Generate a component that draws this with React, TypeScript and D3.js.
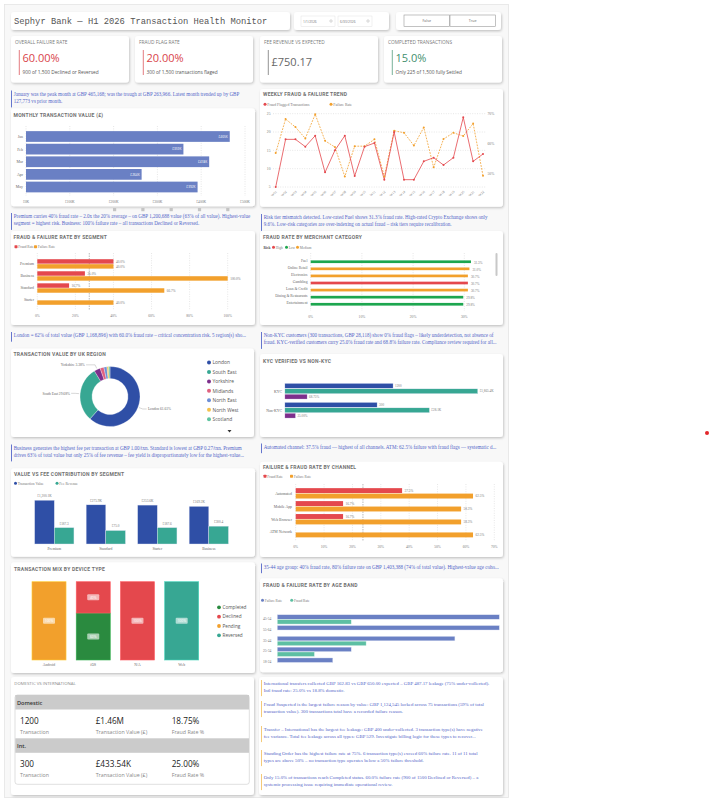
import React from 'react'
import * as d3 from 'd3'

// ---------- data ----------
const months = ['Jan', 'Feb', 'Mar', 'Apr', 'May']
const monthValue = [465168, 359400, 418200, 263966, 391739]

const weeks = ['W01', 'W02', 'W03', 'W04', 'W05', 'W06', 'W07', 'W08', 'W09', 'W10', 'W11',
  'W12', 'W13', 'W14', 'W15', 'W16', 'W17', 'W18', 'W19', 'W20', 'W21', 'W22']
const weeklyFraud = [5, 18, 18, 16, 19, 9, 15, 19, 8, 16, 17, 7, 20, 7, 7, 12, 13, 11, 13, 24, 12, 14]
const weeklyFailure = [56.8, 68.2, 65.5, 61.7, 69.8, 60.9, 58.8, 48.9, 59.1, 59.1, 61.4, 48.9,
  64.3, 63.6, 59.3, 65.4, 52.0, 61.5, 63.6, 62.5, 66.7, 49.2]

const segments = ['Premium', 'Business', 'Standard', 'Starter']
const segFraud = [40, 25, 16.7, 0]
const segFailure = [40, 100, 66.7, 40]

const merchants = ['Fuel', 'Online Retail', 'Electronics', 'Gambling', 'Loan & Credit', 'Dining & Restaurants', 'Entertainment']
const merchantRate = [31.3, 31.0, 30.7, 30.7, 30.7, 29.8, 29.8]
const merchantRisk = ['Low', 'Medium', 'Medium', 'High', 'Medium', 'Low', 'Low']
const riskLevels = ['High', 'Low', 'Medium']

const regions = ['London', 'South East', 'Yorkshire', 'Midlands', 'North East', 'North West', 'Scotland']
const regionShare = [61.61, 29.68, 3.38, 2.05, 1.62, 0.93, 0.73]

const kycGroups = ['KYC', 'Non-KYC']
const kycCount = [1200, 300]
const kycValue = [1865400, 28118]
const kycFailure = [68.75, 25.0]

const feeSegments = ['Premium', 'Standard', 'Starter', 'Business']
const feeSegValue = [1200100, 275900, 253600, 169200]
const feeSegFee = [187.3, 75.0, 187.6, 300.4]

const channels = ['Automated', 'Mobile App', 'Web Browser', 'ATM Network']
const chFraud = [37.5, 16.7, 16.7, 0]
const chFailure = [62.5, 58.3, 58.3, 62.5]

const devices = ['Android', 'iOS', 'N/A', 'Web']
const statuses = ['Completed', 'Declined', 'Pending', 'Reversed']
const devCompleted = [0, 60, 0, 0]
const devDeclined = [0, 40, 100, 0]
const devPending = [100, 0, 0, 0]
const devReversed = [0, 0, 0, 100]

const ageBands = ['45-54', '55-64', '35-44', '25-34', '18-24']
const ageFailure = [100, 100, 80, 33.3, 25]
const ageFraud = [33.3, 0, 40, 16.7, 0]

// ---------- styling ----------
const SANS = "'Segoe UI', 'Open Sans', 'Noto Sans', sans-serif"
const SERIF = "'Liberation Serif', 'DejaVu Serif', serif"
const HEAD = "Roboto, 'DejaVu Sans', sans-serif"
const MONO = "'Liberation Mono', 'DejaVu Sans Mono', monospace"
const RED = '#e4484d'
const ORANGE = '#f2a02c'
const BLUE = '#2f4fa6'
const TEAL = '#37a793'
const PURPLE = '#7d2f8c'
const GREEN_LOW = '#1da64f'
const NOTE = '#5366c8'

const Card = ({ x, y, w, h }: any) => (
  <rect x={x} y={y} width={w} height={h} rx={3} fill="#fff" filter="url(#sh)" />
)

const Title = ({ x, y, text }: any) => (
  <text x={x} y={y} fontSize={5} fontWeight={700} fill="#717171" letterSpacing={0.25} fontFamily={HEAD}>{text}</text>
)

const Note = ({ x, y, lines, border, size = 5.05, lh = 7.2 }: any) => (
  <g>
    <line x1={x} x2={x} y1={y} y2={y + lines.length * lh + 2.5} stroke={border} strokeWidth={0.9} />
    {lines.map((l: string, i: number) => (
      <text key={i} x={x + 2.2} y={y + 5 + i * lh} fontSize={size} fill={NOTE} fontFamily={SERIF}>{l}</text>
    ))}
  </g>
)

const Legend = ({ items, y, shape = 'circle', size = 3.8 }: any) => (
  <g fontFamily={SERIF} fontSize={size} fill="#777">
    {items.map((it: any, i: number) => (
      <g key={i}>
        {shape === 'circle'
          ? <circle cx={it.x} cy={y - 1.3} r={1.5} fill={it.c} />
          : <rect x={it.x - 1.5} y={y - 2.8} width={3} height={3} rx={0.6} fill={it.c} />}
        <text x={it.x + 2.3} y={y}>{it.t}</text>
      </g>
    ))}
  </g>
)

const pct1 = (v: number) => v.toFixed(1) + '%'

// ---------- panels ----------
function Header() {
  const kpis = [
    { x: 11, t: 'OVERALL FAILURE RATE', v: '60.00%', s: '900 of 1,500 Declined or Reversed', c: '#d9434a' },
    { x: 135, t: 'FRAUD FLAG RATE', v: '20.00%', s: '300 of 1,500 transactions flaged', c: '#d9434a' },
    { x: 260, t: 'FEE REVENUE VS EXPECTED', v: '£750.17', s: '', c: '#666' },
    { x: 384, t: 'COMPLETED TRANSACTIONS', v: '15.0%', s: 'Only 225 of 1,500 fully Settled', c: '#3f8f6e' },
  ]
  return (
    <g>
      <Card x={11} y={12} w={279} h={18} />
      <text x={14} y={23.5} fontSize={8.8} fill="#555" fontFamily={MONO}>Sephyr Bank — H1 2026 Transaction Health Monitor</text>
      <Card x={294} y={12} w={95} h={18} />
      {[{ x: 301, t: '1/1/2026' }, { x: 338, t: '6/30/2026' }].map((d) => (
        <g key={d.t}>
          <rect x={d.x} y={16} width={34} height={10.5} fill="#fff" stroke="#e2e2e2" strokeWidth={0.5} />
          <text x={d.x + 2} y={22.6} fontSize={3.3} fill="#777" fontFamily={SANS}>{d.t}</text>
          <circle cx={d.x + 30} cy={21} r={1.2} fill="none" stroke="#999" strokeWidth={0.4} />
        </g>
      ))}
      <Card x={396} y={12} w={105} h={18} />
      {[{ x: 404, t: 'False' }, { x: 450, t: 'True' }].map((b) => (
        <g key={b.t}>
          <rect x={b.x} y={15} width={45.5} height={11.5} fill="#fff" stroke="#9a9a9a" strokeWidth={0.6} />
          <text x={b.x + 22.7} y={22.2} fontSize={3.6} fill="#666" textAnchor="middle" fontFamily={SANS}>{b.t}</text>
        </g>
      ))}
      {kpis.map((k) => (
        <g key={k.t}>
          <Card x={k.x} y={36} w={118} h={46.5} />
          <text x={k.x + 4} y={44} fontSize={4.8} fill="#7a7a7a" fontFamily={SANS}>{k.t}</text>
          <line x1={k.x + 8.3} x2={k.x + 8.3} y1={50} y2={75} stroke={k.c} strokeWidth={0.7} />
          <text x={k.x + 11.5} y={k.s ? 62 : 66} fontSize={11} fill={k.c} fontFamily={SANS}>{k.v}</text>
          {k.s && <text x={k.x + 11.5} y={73.5} fontSize={4.8} fill="#555" fontFamily={SANS}>{k.s}</text>}
        </g>
      ))}
    </g>
  )
}

function MonthlyChart() {
  const x = d3.scaleLinear().domain([0, 500000]).range([26, 245])
  const y = d3.scaleBand().domain(months).range([130.5, 193]).paddingInner(0.15).paddingOuter(0.05)
  const bw = y.bandwidth()
  return (
    <g>
      <Card x={11} y={108.3} w={244} h={98} />
      <Title x={13.5} y={116.5} text="MONTHLY TRANSACTION VALUE (£)" />
      {x.ticks(5).map((t) => (
        <g key={t}>
          <line x1={x(t)} x2={x(t)} y1={126} y2={196} stroke="#cdcdcd" strokeWidth={0.5} strokeDasharray="1,1.4" />
          <text x={x(t)} y={202.5} fontSize={3.6} fill="#777" textAnchor="middle" fontFamily={SERIF}>{'£' + t / 1000 + 'K'}</text>
        </g>
      ))}
      {months.map((m, i) => (
        <g key={m}>
          <rect x={x(0)} y={y(m)} width={x(monthValue[i]) - x(0)} height={bw} fill="#6a80c4" />
          <text x={x(0) - 3} y={y(m)! + bw / 2 + 1.4} fontSize={3.9} fill="#666" textAnchor="end" fontFamily={SERIF}>{m}</text>
          <text x={x(monthValue[i]) - 2} y={y(m)! + bw / 2 + 1.2} fontSize={3.2} fill="#fff" textAnchor="end" fontFamily={SANS}>
            {'£' + Math.round(monthValue[i] / 1000) + 'K'}
          </text>
        </g>
      ))}
      {months.map((m, i) => (
        <rect key={'pg' + m} x={113 + i * 28.3} y={208} width={3.2} height={3.2} fill="#c4c4c4" />
      ))}
    </g>
  )
}

function WeeklyTrend() {
  const x = d3.scalePoint().domain(weeks).range([275.7, 483])
  const yL = d3.scaleLinear().domain([5, 25]).range([187, 113.7])
  const yR = d3.scaleLinear().domain([50, 70]).range([173.3, 113.7])
  const fraudLine = d3.line<number>().x((_, i) => x(weeks[i])!).y((d) => yL(d))
  const failLine = d3.line<number>().x((_, i) => x(weeks[i])!).y((d) => yR(d))
  return (
    <g>
      <Card x={260} y={89} w={243} h={117.7} />
      <Title x={263} y={96} text="WEEKLY FRAUD & FAILURE TREND" />
      <Legend y={105.5} items={[{ x: 265, c: RED, t: 'Fraud Flagged Transactions' }, { x: 331, c: ORANGE, t: 'Failure Rate' }]} />
      {yL.ticks(4).map((t) => (
        <g key={t}>
          <line x1={273} x2={486} y1={yL(t)} y2={yL(t)} stroke="#cfcfcf" strokeWidth={0.5} strokeDasharray="1,1.4" />
          <text x={270.5} y={yL(t) + 1.3} fontSize={3.7} fill="#777" textAnchor="end" fontFamily={SERIF}>{t}</text>
        </g>
      ))}
      {yR.ticks(2).map((t) => (
        <text key={t} x={487.5} y={yR(t) + 1.3} fontSize={3.7} fill="#777" fontFamily={SERIF}>{t + '%'}</text>
      ))}
      {weeks.map((w) => (
        <text key={w} transform={`translate(${x(w)! + 1.5},${192}) rotate(-45)`} fontSize={3.4} fill="#777" textAnchor="end" fontFamily={SERIF}>{w}</text>
      ))}
      <path d={failLine(weeklyFailure)!} fill="none" stroke={ORANGE} strokeWidth={0.8} strokeDasharray="1.8,1.2" />
      <path d={fraudLine(weeklyFraud)!} fill="none" stroke={RED} strokeWidth={0.8} />
      {weeklyFailure.map((v, i) => <circle key={'o' + i} cx={x(weeks[i])} cy={yR(v)} r={1} fill={ORANGE} />)}
      {weeklyFraud.map((v, i) => <circle key={'r' + i} cx={x(weeks[i])} cy={yL(v)} r={1} fill={RED} />)}
    </g>
  )
}

// horizontal grouped bars (fraud / failure) with linear % axis
function PairBars({ cats, a, b, colA, colB, x, y, labelX, axisY, gridTop, gridBottom, refLine, tickCount }: any) {
  const inner = d3.scaleBand().domain(['a', 'b']).range([0, y.bandwidth()]).paddingInner(0.1)
  const h = inner.bandwidth()
  return (
    <g>
      {x.ticks(tickCount).map((t: number) => (
        <g key={t}>
          <line x1={x(t)} x2={x(t)} y1={gridTop} y2={gridBottom} stroke="#cfcfcf" strokeWidth={0.5} strokeDasharray="1,1.4" />
          <text x={x(t)} y={axisY} fontSize={3.6} fill="#777" textAnchor="middle" fontFamily={SERIF}>{t + '%'}</text>
        </g>
      ))}
      <line x1={x(refLine)} x2={x(refLine)} y1={gridTop} y2={gridBottom} stroke="#777" strokeWidth={0.5} strokeDasharray="1.5,1" />
      {cats.map((c: string, i: number) => (
        <g key={c}>
          <text x={labelX} y={y(c) + y.bandwidth() / 2 + 1.3} fontSize={3.8} fill="#666" textAnchor="end" fontFamily={SERIF}>{c}</text>
          {a[i] > 0 && (
            <g>
              <rect x={x(0)} y={y(c) + inner('a')} width={x(a[i]) - x(0)} height={h} fill={colA} />
              <text x={x(a[i]) + 2.5} y={y(c) + inner('a') + h / 2 + 1.2} fontSize={3.4} fill="#777" fontFamily={SERIF}>{pct1(a[i])}</text>
            </g>
          )}
          <rect x={x(0)} y={y(c) + inner('b')} width={x(b[i]) - x(0)} height={h} fill={colB} />
          <text x={x(b[i]) + 2.5} y={y(c) + inner('b') + h / 2 + 1.2} fontSize={3.4} fill="#777" fontFamily={SERIF}>{pct1(b[i])}</text>
        </g>
      ))}
    </g>
  )
}

function SegmentChart() {
  const x = d3.scaleLinear().domain([0, 100]).range([37.3, 227.7])
  const y = d3.scaleBand().domain(segments).range([258, 306]).paddingInner(0.22).paddingOuter(0.1)
  return (
    <g>
      <Card x={11} y={231} w={244} h={94} />
      <Title x={13.5} y={239} text="FRAUD & FAILURE RATE BY SEGMENT" />
      <Legend shape="rect" size={3.5} y={248} items={[{ x: 16, c: RED, t: 'Fraud Rate' }, { x: 35.5, c: ORANGE, t: 'Failure Rate' }]} />
      <PairBars cats={segments} a={segFraud} b={segFailure} colA={RED} colB={ORANGE} x={x} y={y}
        labelX={34} axisY={316.5} gridTop={253} gridBottom={310} refLine={27.3} tickCount={5} />
    </g>
  )
}

function MerchantChart() {
  const x = d3.scaleLinear().domain([0, 30]).range([310.7, 464.3])
  const y = d3.scaleBand().domain(merchants).range([256, 310]).padding(0.62)
  const color = d3.scaleOrdinal<string>().domain(riskLevels).range([RED, GREEN_LOW, ORANGE])
  return (
    <g>
      <Card x={260} y={231} w={243} h={94} />
      <Title x={263} y={239} text="FRAUD RATE BY MERCHANT CATEGORY" />
      <text x={263.5} y={248.5} fontSize={3.6} fontWeight={700} fill="#555" fontFamily={SERIF}>Risk</text>
      <Legend size={3.4} y={248.5} items={riskLevels.map((r, i) => ({ x: [273.5, 286.5, 297.5][i], c: color(r), t: r }))} />
      {x.ticks(3).map((t) => (
        <g key={t}>
          <line x1={x(t)} x2={x(t)} y1={253} y2={311} stroke="#cfcfcf" strokeWidth={0.5} strokeDasharray="1,1.4" />
          <text x={x(t)} y={317.5} fontSize={3.6} fill="#777" textAnchor="middle" fontFamily={SERIF}>{t + '%'}</text>
        </g>
      ))}
      {merchants.map((m, i) => (
        <g key={m}>
          <text x={307.5} y={y(m)! + y.bandwidth() / 2 + 0.2} fontSize={3.7} fill="#666" textAnchor="end" fontFamily={SERIF}>{m}</text>
          <rect x={x(0)} y={y(m)} width={x(merchantRate[i]) - x(0)} height={y.bandwidth()} fill={color(merchantRisk[i])} />
          <text x={x(merchantRate[i]) + 3} y={y(m)! + y.bandwidth() / 2 + 1.8} fontSize={3.3} fill="#777" fontFamily={SERIF}>{pct1(merchantRate[i])}</text>
        </g>
      ))}
      <rect x={495.5} y={253} width={2} height={23} rx={1} fill="#c8c8c8" />
    </g>
  )
}

function RegionDonut() {
  const cx = 110
  const cy = 396.5
  const color = d3.scaleOrdinal<string>().domain(regions)
    .range([BLUE, TEAL, PURPLE, '#e0617f', '#6d8fd6', '#f4c24c', '#5fc4a1'])
  const pie = d3.pie<number>().sort(null).value((d) => d)
  const arcs = pie(regionShare)
  const arc = d3.arc<d3.PieArcDatum<number>>().innerRadius(18).outerRadius(30)
  return (
    <g>
      <Card x={11} y={348.5} w={243} h={88.5} />
      <Title x={13.5} y={355.5} text="TRANSACTION VALUE BY UK REGION" />
      <g transform={`translate(${cx},${cy})`}>
        {arcs.map((a, i) => <path key={regions[i]} d={arc(a)!} fill={color(regions[i])} stroke="#fff" strokeWidth={0.3} />)}
      </g>
      {arcs.slice(0, 3).map((a, i) => {
        const mid = (a.startAngle + a.endAngle) / 2
        const s = Math.sin(mid)
        const c = -Math.cos(mid)
        const p1 = [cx + s * 31, cy + c * 31]
        const p2 = [cx + s * 35, cy + c * 35]
        const dir = s >= 0 ? 1 : -1
        const p3 = [p2[0] + dir * (i === 2 ? 9 : 4), p2[1]]
        return (
          <g key={'lbl' + i}>
            <polyline points={[p1, p2, p3].map((p) => p.join(',')).join(' ')} fill="none" stroke="#999" strokeWidth={0.4} />
            <text x={p3[0] + dir * 1.2} y={p3[1] + 1.2} fontSize={3.6} fill="#666" textAnchor={dir > 0 ? 'start' : 'end'} fontFamily={SERIF}>
              {regions[i] + ' ' + regionShare[i].toFixed(2) + '%'}
            </text>
          </g>
        )
      })}
      {regions.map((r, i) => (
        <g key={'lg' + r}>
          <circle cx={209} cy={362.5 + i * 9.45} r={2} fill={color(r)} />
          <text x={212.5} y={364.3 + i * 9.45} fontSize={4.9} fill="#555" fontFamily={SANS}>{r}</text>
        </g>
      ))}
      <path d="M227.5,430 L231.5,430 L229.5,432.5 Z" fill="#333" />
    </g>
  )
}

function KycChart() {
  const x = d3.scaleLog().domain([0.1, 1e7]).range([284.9, 497])
  const y = d3.scaleBand().domain(kycGroups).range([382.5, 419]).paddingInner(0.18).paddingOuter(0.05)
  const inner = d3.scaleBand().domain(['count', 'value', 'fail']).range([0, y.bandwidth()]).paddingInner(0.12)
  const h = inner.bandwidth()
  const series = [
    { k: 'count', vals: kycCount, col: BLUE, fmt: (v: number) => String(v) },
    { k: 'value', vals: kycValue, col: TEAL, fmt: (v: number) => '£' + d3.format(',.1f')(v / 1000) + 'K' },
    { k: 'fail', vals: kycFailure.map((v) => v / 100), col: PURPLE, fmt: (v: number) => (v * 100).toFixed(2) + '%' },
  ]
  return (
    <g>
      <Card x={260} y={354} w={243} h={83} />
      <Title x={263} y={362.5} text="KYC VERIFIED VS NON-KYC" />
      {kycGroups.map((g) => (
        <g key={g}>
          <text x={282} y={y(g)! + y.bandwidth() / 2 + 1.3} fontSize={3.8} fill="#666" textAnchor="end" fontFamily={SERIF}>{g}</text>
          {series.map((s) => {
            const v = s.vals[kycGroups.indexOf(g)]
            const yy = y(g)! + inner(s.k)!
            return (
              <g key={s.k}>
                <rect x={x(0.1)} y={yy} width={x(v) - x(0.1)} height={h} fill={s.col} stroke="#dfe3f3" strokeWidth={0.3} />
                <text x={x(v) + 2} y={yy + h / 2 + 1.2} fontSize={3.3} fill="#777" fontFamily={SERIF}>{s.fmt(v)}</text>
              </g>
            )
          })}
        </g>
      ))}
    </g>
  )
}

function ValueFeeChart() {
  const x = d3.scaleBand().domain(feeSegments).range([28.55, 234.55]).paddingInner(0.237).paddingOuter(0.1185)
  const inner = d3.scaleBand().domain(['value', 'fee']).range([0, x.bandwidth()])
  const y = d3.scaleLog().domain([1, 1e7]).range([544, 493.6])
  const series = [
    { k: 'value', vals: feeSegValue, col: BLUE, fmt: (v: number) => '£' + d3.format(',.1f')(v / 1000) + 'K' },
    { k: 'fee', vals: feeSegFee, col: TEAL, fmt: (v: number) => '£' + v.toFixed(1) },
  ]
  return (
    <g>
      <Card x={11} y={468.3} w={244} h={88.4} />
      <Title x={14} y={475.5} text="VALUE VS FEE CONTRIBUTION BY SEGMENT" />
      <Legend y={484.5} size={3.6} items={[{ x: 15.5, c: BLUE, t: 'Transaction Value' }, { x: 57, c: TEAL, t: 'Fee Revenue' }]} />
      {feeSegments.map((s, i) => (
        <g key={s}>
          {series.map((se) => {
            const v = se.vals[i]
            const bx = x(s)! + inner(se.k)!
            return (
              <g key={se.k}>
                <rect x={bx} y={y(v)} width={inner.bandwidth()} height={y(1) - y(v)} fill={se.col} stroke="#dfe3f3" strokeWidth={0.4} />
                <text x={bx + inner.bandwidth() / 2} y={y(v) - 3} fontSize={3.4} fill="#777" textAnchor="middle" fontFamily={SERIF}>{se.fmt(v)}</text>
              </g>
            )
          })}
          <text x={x(s)! + x.bandwidth() / 2} y={550} fontSize={3.7} fill="#666" textAnchor="middle" fontFamily={SERIF}>{s}</text>
        </g>
      ))}
    </g>
  )
}

function ChannelChart() {
  const x = d3.scaleLinear().domain([0, 70]).range([295.7, 494.3])
  const y = d3.scaleBand().domain(channels).range([487.5, 538]).paddingInner(0.2).paddingOuter(0.05)
  return (
    <g>
      <Card x={260} y={461.7} w={243} h={95.3} />
      <Title x={263} y={469} text="FAILURE & FRAUD RATE BY CHANNEL" />
      <Legend shape="rect" size={3.5} y={477.5} items={[{ x: 265, c: RED, t: 'Fraud Rate' }, { x: 291.5, c: ORANGE, t: 'Failure Rate' }]} />
      <PairBars cats={channels} a={chFraud} b={chFailure} colA={RED} colB={ORANGE} x={x} y={y}
        labelX={292} axisY={547.5} gridTop={484} gridBottom={541} refLine={23.7} tickCount={7} />
    </g>
  )
}

function DeviceChart() {
  const x = d3.scaleBand().domain(devices).range([26.9, 203.8]).paddingInner(0.23).paddingOuter(0.115)
  const y = d3.scaleLinear().domain([0, 100]).range([660, 581.7])
  const color = d3.scaleOrdinal<string>().domain(statuses).range(['#2a8a3f', RED, ORANGE, TEAL])
  const rows = devices.map((d, i) => ({
    device: d, Completed: devCompleted[i], Declined: devDeclined[i], Pending: devPending[i], Reversed: devReversed[i],
  }))
  const stacked = d3.stack<any>().keys(statuses)(rows)
  return (
    <g>
      <Card x={11} y={562.3} w={244} h={110.7} />
      <Title x={14} y={570.5} text="TRANSACTION MIX BY DEVICE TYPE" />
      {stacked.map((s) => s.map((d, i) => {
        if (d[1] - d[0] <= 0) return null
        const bx = x(devices[i])!
        const mid = (y(d[0]) + y(d[1])) / 2
        const lbl = Math.round(d[1] - d[0]) + '%'
        return (
          <g key={s.key + i}>
            <rect x={bx} y={y(d[1])} width={x.bandwidth()} height={y(d[0]) - y(d[1])} fill={color(s.key)}
              stroke={d3.color(color(s.key))!.brighter(0.7).toString()} strokeWidth={0.6} />
            <rect x={bx + x.bandwidth() / 2 - 6} y={mid - 3} width={12} height={6} rx={1} fill="#fff" opacity={0.6} />
            <text x={bx + x.bandwidth() / 2} y={mid + 1.2} fontSize={3.4} fill="#fff" textAnchor="middle" fontFamily={SANS}>{lbl}</text>
          </g>
        )
      }))}
      {devices.map((d) => (
        <text key={d} x={x(d)! + x.bandwidth() / 2} y={665.5} fontSize={3.7} fill="#666" textAnchor="middle" fontFamily={SERIF}>{d}</text>
      ))}
      {statuses.map((s, i) => (
        <g key={'lg' + s}>
          <circle cx={219} cy={607.3 + i * 9.35} r={1.9} fill={color(s)} />
          <text x={222.5} y={609 + i * 9.35} fontSize={4.7} fill="#555" fontFamily={SANS}>{s}</text>
        </g>
      ))}
    </g>
  )
}

function AgeChart() {
  const x = d3.scaleLinear().domain([0, 100]).range([277.3, 499.3])
  const y = d3.scaleBand().domain(ageBands).range([614, 668]).paddingInner(0.14).paddingOuter(0.07)
  const inner = d3.scaleBand().domain(['fail', 'fraud']).range([0, y.bandwidth()]).paddingInner(0.08)
  const h = inner.bandwidth()
  return (
    <g>
      <Card x={260} y={578.3} w={243} h={94} />
      <Title x={263} y={587} text="FRAUD & FAILURE RATE BY AGE BAND" />
      <Legend y={601.5} size={3.5} items={[{ x: 262.5, c: '#6a80c4', t: 'Failure Rate' }, { x: 291.7, c: '#5dbfa3', t: 'Fraud Rate' }]} />
      {ageBands.map((a, i) => (
        <g key={a}>
          <text x={263} y={y(a)! + y.bandwidth() / 2 + 0.5} fontSize={3.6} fill="#777" fontFamily={SERIF}>{a}</text>
          <rect x={x(0)} y={y(a)! + inner('fail')!} width={x(ageFailure[i]) - x(0)} height={h} fill="#6a80c4" stroke="#dfe3f3" strokeWidth={0.4} />
          {ageFraud[i] > 0 && (
            <rect x={x(0)} y={y(a)! + inner('fraud')!} width={x(ageFraud[i]) - x(0)} height={h} fill="#5dbfa3" stroke="#dff3ee" strokeWidth={0.4} />
          )}
        </g>
      ))}
    </g>
  )
}

function DomesticCard() {
  const rows = [
    { name: 'Domestic', top: 695, vals: ['1200', '£1.46M', '18.75%'] },
    { name: 'Int.', top: 738.3, vals: ['300', '£433.54K', '25.00%'] },
  ]
  const labels = ['Transaction', 'Transaction Value (£)', 'Fraud Rate %']
  const cols = [20, 95.7, 171.7]
  return (
    <g>
      <Card x={11} y={677} w={243} h={118} />
      <text x={14.3} y={685} fontSize={4.3} fill="#8a8a8a" fontFamily={SANS}>DOMESTIC VS INTERNATIONAL</text>
      <rect x={15} y={695} width={234.3} height={89.3} rx={2.5} fill="#fff" stroke="#c9c9c9" strokeWidth={0.6} />
      {rows.map((r) => (
        <g key={r.name}>
          <rect x={15.3} y={r.top} width={233.7} height={14.5} fill="#cbcbcb" />
          <text x={17} y={r.top + 9.5} fontSize={5.6} fontWeight={600} fill="#333" fontFamily={SANS}>{r.name}</text>
          {r.vals.map((v, j) => (
            <g key={j}>
              <text x={cols[j]} y={r.top + 29} fontSize={8.2} fill="#222" fontFamily={SANS}>{v}</text>
              <text x={cols[j]} y={r.top + 38.5} fontSize={5.3} fill="#888" fontFamily={SANS}>{labels[j]}</text>
            </g>
          ))}
        </g>
      ))}
    </g>
  )
}

function InsightCard() {
  const notes = [
    ['International transfers collected GBP 162.83 vs GBP 650.00 expected – GBP 487.17 leakage (75% under-collected).',
      'Intl fraud rate: 25.0% vs 18.8% domestic.'],
    ['Fraud Suspected is the largest failure reason by value: GBP 1,124,545 locked across 75 transactions (59% of total',
      'transaction value). 300 transactions total have a recorded failure reason.'],
    ['Transfer – International has the largest fee leakage: GBP 400 under-collected. 3 transaction type(s) have negative',
      'fee variance. Total fee leakage across all types: GBP 529. Investigate billing logic for these types to recover...'],
    ['Standing Order has the highest failure rate at 75%. 6 transaction type(s) exceed 60% failure rate. 11 of 11 total',
      'types are above 50% – no transaction type operates below a 50% failure threshold.'],
    ['Only 15.0% of transactions reach Completed status. 60.0% failure rate (900 of 1500 Declined or Reversed) – a',
      'systemic processing issue requiring immediate operational review.'],
  ]
  return (
    <g>
      <Card x={259} y={677} w={244} h={118} />
      {notes.map((n, i) => (
        <Note key={i} x={261.5} y={[680, 701, 726, 750, 774][i]} lines={n} border="#f3c46a" size={4.85} lh={6.8} />
      ))}
    </g>
  )
}

export default function App() {
  return (
    <svg width={711} height={801} style={{ position: 'absolute', left: 0, top: 0, background: '#fff' }}>
      <defs>
        <filter id="sh" x="-5%" y="-10%" width="112%" height="125%">
          <feDropShadow dx="0.8" dy="1.3" stdDeviation="1.3" floodColor="#000" floodOpacity="0.22" />
        </filter>
      </defs>
      <rect x={4.5} y={4.5} width={504} height={793} fill="#f8f8f8" stroke="#e4e4e4" strokeWidth={0.8} />
      <Header />
      <Note x={11.5} y={90.5} border={NOTE} lines={[
        'January was the peak month at GBP 465,168; was the trough at GBP 263,966. Latest month trended up by GBP',
        '127,773 vs prior month.']} />
      <MonthlyChart />
      <WeeklyTrend />
      <Note x={11.5} y={213} border={NOTE} lines={[
        'Premium carries 40% fraud rate – 2.0x the 20% average – on GBP 1,200,688 value (63% of all value). Highest-value',
        'segment = highest risk. Business: 100% failure rate – all transactions Declined or Reversed.']} />
      <Note x={261.5} y={214} border={NOTE} lines={[
        'Risk tier mismatch detected. Low-rated Fuel shows 31.3% fraud rate. High-rated Crypto Exchange shows only',
        '9.6%. Low-risk categories are over-indexing on actual fraud – risk tiers require recalibration.']} />
      <SegmentChart />
      <MerchantChart />
      <Note x={11.5} y={332} border={NOTE} lines={[
        'London = 62% of total value (GBP 1,168,896) with 60.0% fraud rate – critical concentration risk. 5 region(s) sho...']} />
      <Note x={261.5} y={332} border={NOTE} lines={[
        'Non-KYC customers (300 transactions, GBP 28,118) show 0% fraud flags – likely underdetection, not absence of',
        'fraud. KYC-verified customers carry 25.0% fraud rate and 68.8% failure rate. Compliance review required for all...']} />
      <RegionDonut />
      <KycChart />
      <Note x={11.5} y={444.5} border={NOTE} lines={[
        'Business generates the highest fee per transaction at GBP 1.00/txn. Standard is lowest at GBP 0.27/txn. Premium',
        'drives 63% of total value but only 25% of fee revenue – fee yield is disproportionately low for the highest-value...']} />
      <Note x={261.5} y={443.5} border={NOTE} lines={[
        'Automated channel: 37.5% fraud — highest of all channels. ATM: 62.5% failure with fraud flags — systematic d...']} />
      <ValueFeeChart />
      <ChannelChart />
      <Note x={261.5} y={563.5} border={NOTE} lines={[
        '35-44 age group: 40% fraud rate, 80% failure rate on GBP 1,403,388 (74% of total value). Highest-value age coho...']} />
      <DeviceChart />
      <AgeChart />
      <DomesticCard />
      <InsightCard />
      <circle cx={707} cy={433} r={2} fill="#e3262b" />
    </svg>
  )
}
